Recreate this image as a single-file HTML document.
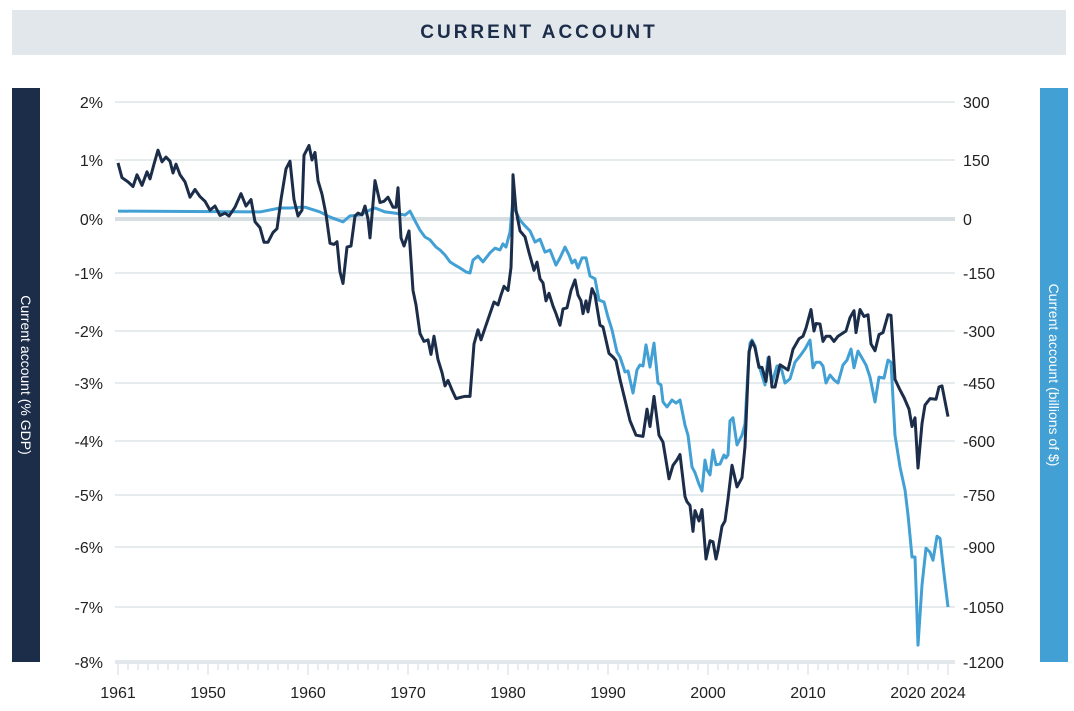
<!DOCTYPE html>
<html><head><meta charset="utf-8"><style>
body{margin:0;background:#fff;width:1074px;height:711px;overflow:hidden;font-family:"Liberation Sans",sans-serif}
.title{position:absolute;left:12px;top:10px;width:1054px;height:45px;background:#e1e7eb;color:#1c2d4a;font-size:19px;letter-spacing:3px;text-align:center;line-height:45px;font-weight:bold}
.bar{position:absolute;top:88px;width:28px;height:574px}
.bar span{position:absolute;left:50%;top:50%;white-space:nowrap;color:#fff;font-size:14px;transform:translate(-50%,-50%) rotate(90deg)}
</style></head><body>
<div class="title">CURRENT ACCOUNT</div>
<div class="bar" style="left:12px;background:#1c2d4a"><span>Current account (% GDP)</span></div>
<div class="bar" style="left:1040px;background:#42a0d4"><span>Current account (billions of $)</span></div>
<svg id="chart" width="1074" height="711" style="position:absolute;left:0;top:0"></svg>
<script>
const leftTicks=[2,1,0,-1,-2,-3,-4,-5,-6,-7,-8];
const leftTickLabels=["2%","1%","0%","-1%","-2%","-3%","-4%","-5%","-6%","-7%","-8%"];
const rightTickLabels=["300","150","0","-150","-300","-450","-600","-750","-900","-1050","-1200"];
const xTickYears=[1941,1950,1960,1970,1980,1990,2000,2010,2020,2024];
const xTickLabels=["1961","1950","1960","1970","1980","1990","2000","2010","2020","2024"];
const darkYears=[1941.0,1941.4,1942.0,1942.5,1942.9,1943.4,1943.9,1944.2,1944.6,1945.0,1945.4,1945.8,1946.2,1946.5,1946.8,1947.2,1947.7,1948.2,1948.7,1949.2,1949.7,1950.2,1950.7,1951.2,1951.7,1952.1,1952.7,1953.3,1953.8,1954.3,1954.7,1955.2,1955.6,1956.0,1956.5,1956.9,1957.3,1957.8,1958.2,1958.6,1959.0,1959.4,1959.6,1960.1,1960.4,1960.7,1961.0,1961.4,1961.8,1962.2,1962.6,1962.9,1963.2,1963.5,1963.9,1964.3,1964.7,1965.0,1965.4,1965.7,1966.0,1966.2,1966.7,1967.2,1967.6,1968.0,1968.5,1968.8,1969.0,1969.3,1969.6,1970.1,1970.5,1970.8,1971.2,1971.6,1972.0,1972.3,1972.6,1973.0,1973.4,1973.7,1974.0,1974.4,1974.8,1975.2,1975.7,1976.2,1976.6,1977.0,1977.3,1977.8,1978.2,1978.6,1979.0,1979.3,1979.6,1980.0,1980.3,1980.4,1980.5,1980.8,1981.2,1981.7,1982.1,1982.6,1982.9,1983.2,1983.5,1983.8,1984.1,1984.5,1984.8,1985.2,1985.5,1985.9,1986.3,1986.7,1987.0,1987.3,1987.5,1987.8,1988.0,1988.4,1988.7,1989.2,1989.5,1990.1,1990.5,1990.8,1991.2,1991.6,1992.2,1992.8,1993.5,1993.9,1994.2,1994.6,1995.1,1995.5,1996.1,1996.5,1996.9,1997.2,1997.7,1997.9,1998.2,1998.5,1998.7,1999.1,1999.4,1999.8,2000.2,2000.5,2000.8,2001.0,2001.4,2001.7,2002.0,2002.4,2002.9,2003.4,2003.7,2004.1,2004.4,2004.7,2005.1,2005.4,2005.8,2006.1,2006.4,2006.7,2007.2,2007.6,2008.0,2008.5,2009.1,2009.5,2009.8,2010.3,2010.6,2010.8,2011.2,2011.5,2011.8,2012.2,2012.6,2013.0,2013.4,2013.8,2014.2,2014.6,2014.8,2015.2,2015.6,2016.0,2016.3,2016.7,2017.1,2017.5,2018.0,2018.3,2018.7,2019.2,2019.6,2020.1,2020.4,2020.7,2021.0,2021.4,2021.7,2022.2,2022.8,2023.1,2023.4,2024.0];
const darkValues=[0.95,0.7,0.63,0.55,0.75,0.57,0.8,0.68,0.93,1.17,0.97,1.05,0.98,0.78,0.93,0.75,0.63,0.37,0.5,0.38,0.3,0.15,0.22,0.06,0.1,0.05,0.2,0.43,0.22,0.33,-0.05,-0.16,-0.43,-0.43,-0.25,-0.18,0.33,0.85,0.98,0.33,0.05,0.15,1.08,1.25,1.0,1.13,0.65,0.42,0.08,-0.45,-0.47,-0.42,-0.98,-1.18,-0.52,-0.5,0.05,0.1,0.07,0.22,0,-0.35,0.65,0.28,0.3,0.37,0.2,0.2,0.53,-0.35,-0.5,-0.22,-1.3,-1.55,-2.05,-2.2,-2.17,-2.45,-2.1,-2.55,-2.8,-3.05,-2.95,-3.12,-3.27,-3.25,-3.23,-3.23,-2.25,-1.98,-2.17,-1.9,-1.7,-1.5,-1.55,-1.38,-1.23,-1.3,-0.9,-0.33,0.75,0.15,-0.22,-0.33,-0.62,-0.95,-0.8,-1.1,-1.17,-1.48,-1.35,-1.57,-1.7,-1.9,-1.62,-1.6,-1.3,-1.12,-1.38,-1.48,-1.7,-1.48,-1.67,-1.27,-1.38,-1.9,-1.93,-2.43,-2.5,-2.57,-2.93,-3.22,-3.65,-3.9,-3.92,-3.45,-3.75,-3.23,-3.9,-4.02,-4.7,-4.45,-4.35,-4.25,-5.03,-5.13,-5.2,-5.7,-5.3,-5.5,-5.28,-6.2,-5.88,-5.9,-6.2,-6.05,-5.6,-5.5,-5.08,-4.45,-4.85,-4.68,-4.1,-2.4,-2.2,-2.32,-2.7,-2.7,-2.97,-2.5,-3.07,-3.07,-2.65,-2.7,-2.75,-2.35,-2.15,-2.1,-1.95,-1.63,-2.0,-1.87,-1.88,-2.2,-2.1,-2.1,-2.2,-2.1,-2.05,-2.0,-1.77,-1.65,-2.03,-1.63,-1.75,-1.72,-2.25,-2.38,-2.07,-2.03,-1.72,-1.73,-2.93,-3.12,-3.25,-3.45,-3.75,-3.6,-4.5,-3.7,-3.38,-3.27,-3.28,-3.07,-3.05,-3.58];
const lightYears=[1941.0,1955.2,1957.2,1958.2,1959.2,1959.7,1961.2,1962.2,1963.5,1964.2,1965.2,1966.2,1966.7,1967.7,1968.7,1969.7,1970.2,1970.7,1971.2,1971.7,1972.2,1972.8,1973.2,1973.7,1974.2,1974.7,1975.2,1975.8,1976.2,1976.5,1977.0,1977.5,1978.2,1978.7,1979.2,1979.5,1979.8,1980.2,1980.5,1980.7,1981.2,1981.7,1982.2,1982.7,1983.2,1983.7,1984.2,1984.8,1985.2,1985.7,1986.1,1986.4,1986.7,1987.0,1987.4,1987.8,1988.2,1988.7,1989.1,1989.6,1990.0,1990.4,1990.9,1991.2,1991.7,1992.0,1992.5,1992.9,1993.2,1993.5,1993.8,1994.2,1994.6,1995.0,1995.3,1995.5,1995.9,1996.4,1996.8,1997.2,1997.7,1998.0,1998.4,1998.7,1999.1,1999.4,1999.7,1999.9,2000.2,2000.5,2000.8,2001.2,2001.6,2001.8,2002.0,2002.2,2002.5,2002.9,2003.4,2003.7,2004.0,2004.2,2004.4,2004.7,2005.0,2005.4,2005.7,2006.0,2006.4,2006.9,2007.3,2007.7,2008.2,2008.7,2009.2,2009.7,2010.2,2010.5,2010.8,2011.2,2011.5,2011.8,2012.2,2012.6,2013.0,2013.5,2013.9,2014.3,2014.6,2015.0,2015.4,2015.8,2016.2,2016.7,2017.1,2017.6,2018.0,2018.3,2018.7,2019.2,2019.7,2020.0,2020.4,2020.7,2021.0,2021.4,2021.8,2022.2,2022.5,2022.9,2023.2,2023.6,2024.0];
const lightValues=[20,18,28,28,30,30,18,5,-8,8,10,23,28,18,15,10,20,-5,-31,-50,-58,-78,-86,-100,-119,-128,-136,-147,-150,-114,-103,-119,-94,-81,-86,-69,-78,-36,53,23,-3,-19,-33,-64,-56,-92,-86,-128,-108,-78,-100,-122,-114,-136,-108,-108,-158,-165,-220,-225,-264,-297,-361,-375,-418,-415,-476,-412,-398,-401,-340,-404,-335,-450,-455,-499,-512,-494,-502,-494,-559,-585,-672,-688,-720,-739,-653,-680,-694,-625,-666,-664,-639,-647,-639,-548,-540,-611,-585,-556,-412,-335,-326,-343,-390,-427,-455,-378,-450,-401,-404,-450,-438,-390,-372,-352,-326,-406,-390,-390,-401,-450,-427,-441,-450,-398,-384,-352,-406,-358,-378,-398,-433,-499,-433,-436,-384,-390,-585,-672,-736,-807,-925,-925,-1154,-995,-903,-913,-933,-869,-875,-967,-1050];

const tickPx=[102,160,219,273,331,383,441,495,547,607,662];
function y(p){ // piecewise through tick positions
  for(let i=0;i<leftTicks.length-1;i++){const a=leftTicks[i],b=leftTicks[i+1];
    if(p<=a&&p>=b)return tickPx[i]+(a-p)/(a-b)*(tickPx[i+1]-tickPx[i]);}
  return p>2?tickPx[0]-(p-2)*58:662+(-8-p)*55;}
function yR(v){return y(v/150);}
function x(yr){return 118+(yr-1941)*10.0;}
const svg=document.getElementById('chart');const NS='http://www.w3.org/2000/svg';
function mk(t,a,txt){const e=document.createElementNS(NS,t);for(const k in a)e.setAttribute(k,a[k]);if(txt!==undefined)e.textContent=txt;svg.appendChild(e);return e;}
leftTicks.forEach((t,i)=>{
  const g=mk('line',{x1:115,x2:955,y1:y(t),y2:y(t),stroke:t===0?'#d6dee2':(t===-8?'#e3e8ec':'#e6ebee'),'stroke-width':t===0||t===-8?4:2});
  
  
  const l=mk('text',{x:103,y:y(t)+6,'text-anchor':'end','font-size':16,fill:'#222'},leftTickLabels[i]);
  
  
  const r=mk('text',{x:963,y:y(t)+6,'font-size':16,fill:'#222'},rightTickLabels[i]);
  
  
});
for(let yr=1941;yr<=2024;yr++){
  const major=xTickYears.includes(yr);
  const t=mk('line',{x1:x(yr),x2:x(yr),y1:664,y2:major?675:670,stroke:'#e0e6ea','stroke-width':1.5});
  
  
}
xTickYears.forEach((yr,i)=>{
  const t=mk('text',{x:x(yr),y:698,'text-anchor':'middle','font-size':16,fill:'#222'},xTickLabels[i]);
  
  
});
const lp=mk('polyline',{points:lightYears.map((yr,i)=>x(yr)+','+yR(lightValues[i])).join(' '),fill:'none',stroke:'#42a0d4','stroke-width':3,'stroke-linejoin':'round'});


const dp=mk('polyline',{points:darkYears.map((yr,i)=>x(yr)+','+y(darkValues[i])).join(' '),fill:'none',stroke:'#1c2d4a','stroke-width':3,'stroke-linejoin':'round'});


</script>
</body></html>
